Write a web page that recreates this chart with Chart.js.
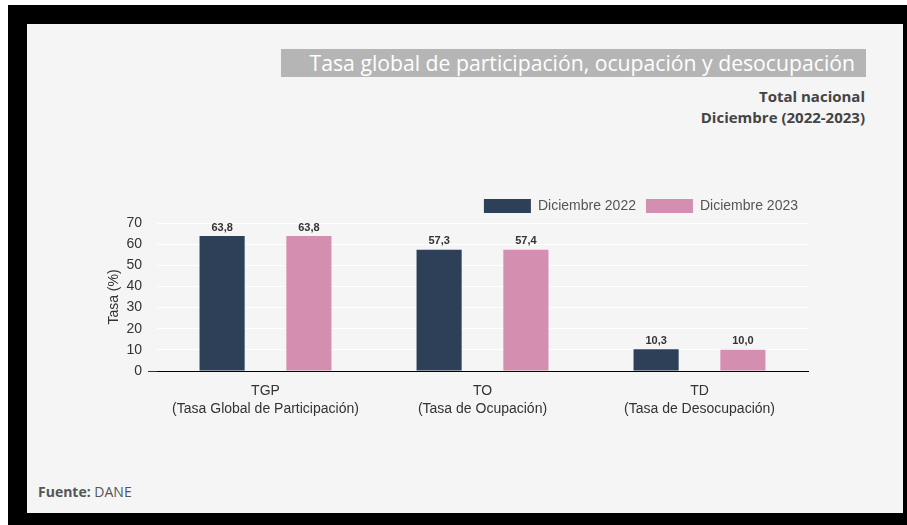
<!DOCTYPE html>
<html lang="es">
<head>
<meta charset="utf-8">
<title>Tasa global de participación, ocupación y desocupación</title>
<script src="https://cdn.jsdelivr.net/npm/chart.js@4.4.1/dist/chart.umd.min.js"></script>
<style>
  html, body { margin: 0; padding: 0; background: #ffffff; }
  body { width: 907px; height: 525px; position: relative; overflow: hidden; }
  #frame { position: absolute; left: 8px; top: 5px; width: 899px; height: 520px; background: #000; }
  #panel { position: absolute; left: 27px; top: 24px; width: 876px; height: 489px; background: #f5f5f5; }
  #title {
    position: absolute; left: 281px; top: 49px; width: 574px; height: 28px; padding-right: 11px;
    background: #b5b5b5; color: #ffffff; font-family: "Open Sans", sans-serif; font-size: 21.2px;
    line-height: 28px; text-align: right; white-space: nowrap;
  }
  .sub {
    position: absolute; right: 42px; font-family: "Open Sans", sans-serif; font-weight: bold;
    font-size: 15px; color: #444; white-space: nowrap; line-height: 20px;
  }
  #src {
    position: absolute; left: 38px; top: 482px; font-family: "Open Sans", sans-serif;
    font-size: 14px; color: #555; line-height: 20px;
  }
  #chart { position: absolute; left: 0; top: 0; }
</style>
</head>
<body>
<div id="frame"></div>
<div id="panel"></div>
<div id="title">Tasa global de participación, ocupación y desocupación</div>
<div class="sub" style="top:86px">Total nacional</div>
<div class="sub" style="top:107px">Diciembre (2022-2023)</div>
<div id="src"><b>Fuente:</b> DANE</div>
<canvas id="chart" width="907" height="525"></canvas>
<script>
// Indicadores del mercado laboral, total nacional
const categories = [
  ['TGP', '(Tasa Global de Participación)'],
  ['TO', '(Tasa de Ocupación)'],
  ['TD', '(Tasa de Desocupación)']
];
const seriesNames = ['Diciembre 2022', 'Diciembre 2023'];
const dic2022 = [63.8, 57.3, 10.3];
const dic2023 = [63.8, 57.4, 10.0];
const yTicks = [0, 10, 20, 30, 40, 50, 60, 70];

const BASE_FONT = '"Liberation Sans", Arial, sans-serif';

// Etiquetas de valor sobre cada barra, con coma decimal
const valueLabels = {
  id: 'valueLabels',
  afterDatasetsDraw(chart) {
    const ctx = chart.ctx;
    ctx.save();
    ctx.font = 'bold 11px ' + BASE_FONT;
    ctx.fillStyle = '#333333';
    ctx.textAlign = 'center';
    ctx.textBaseline = 'bottom';
    chart.data.datasets.forEach((ds, i) => {
      chart.getDatasetMeta(i).data.forEach((bar, j) => {
        const txt = ds.data[j].toFixed(1).replace('.', ',');
        ctx.fillText(txt, bar.x, bar.y - 3);
      });
    });
    ctx.restore();
  }
};

new Chart(document.getElementById('chart'), {
  type: 'bar',
  data: {
    labels: categories,
    datasets: [
      { label: seriesNames[0], data: dic2022, backgroundColor: '#2e4058' },
      { label: seriesNames[1], data: dic2023, backgroundColor: '#d48eb0' }
    ]
  },
  options: {
    responsive: false,
    animation: false,
    datasets: { bar: { categoryPercentage: 0.8, barPercentage: 0.52 } },
    layout: { padding: { top: 189, left: 100, right: 99, bottom: 94 } },
    plugins: {
      tooltip: { enabled: false },
      legend: {
        position: 'top',
        align: 'end',
        labels: {
          boxWidth: 47, boxHeight: 14, padding: 10,
          color: '#555555',
          font: { family: BASE_FONT, size: 14 }
        }
      }
    },
    scales: {
      x: {
        grid: { display: false, drawTicks: false },
        border: { display: true, color: '#000000', width: 1 },
        ticks: { color: '#333333', padding: 11, font: { family: BASE_FONT, size: 14, lineHeight: 1.3 } },
        afterFit(scale) { scale.height = 60; }
      },
      y: {
        min: 0, max: 70,
        afterBuildTicks(scale) { scale.ticks = yTicks.map(v => ({ value: v })); },
        grid: {
          color: ctx => ctx.tick && ctx.tick.value === 0 ? 'rgba(0,0,0,0)' : '#ffffff',
          tickColor: ctx => ctx.tick && ctx.tick.value === 0 ? '#333333' : 'rgba(0,0,0,0)',
          tickLength: 9,
          lineWidth: 1
        },
        border: { display: false },
        ticks: { color: '#333333', padding: 6, font: { family: BASE_FONT, size: 14 } },
        title: {
          display: true, text: 'Tasa (%)', color: '#333333',
          padding: { top: 6, bottom: 0 },
          font: { family: BASE_FONT, size: 14 }
        },
        afterFit(scale) { scale.width = 57; }
      }
    }
  },
  plugins: [valueLabels]
});
</script>
</body>
</html>
